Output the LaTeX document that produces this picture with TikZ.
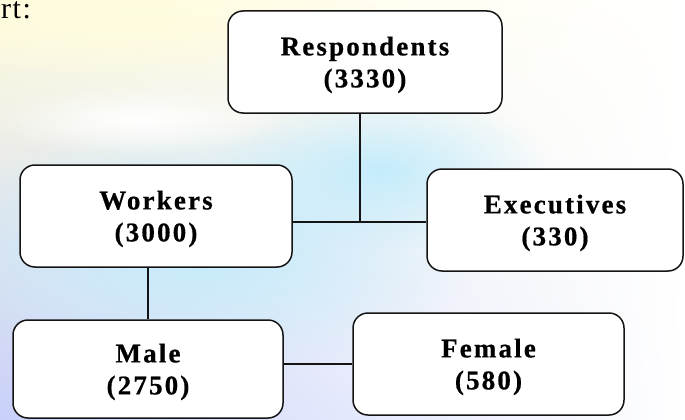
\documentclass[tikz,border=0pt]{standalone}
\usepackage{fontspec}
\setmainfont{Liberation Serif}
\usetikzlibrary{positioning,fadings,shadings}
\definecolor{paper}{RGB}{255,252,222}
\definecolor{sky}{RGB}{196,236,252}
\definecolor{lilac}{RGB}{200,208,250}
\definecolor{ink}{RGB}{20,20,20}
\tikzfading[name=blob,inner color=transparent!0,outer color=transparent!100]
\tikzset{
  unit box/.style={draw=ink,fill=white,rounded corners=15pt,line width=1.5pt,
    minimum width=#1,minimum height=102pt,align=center,inner sep=0pt,text depth=0pt,
    font=\fontsize{27}{32}\selectfont\bfseries\addfontfeature{LetterSpace=8,FakeBold=0.6}},
  unit box/.default=272pt,
  link/.style={draw=ink,line width=1.4pt},
}
\begin{document}
\begin{tikzpicture}[x=1pt,y=-1pt]
  % background
  \useasboundingbox (0,0) rectangle (685,420);
  \shade[upper left=paper,upper right=white,lower left=lilac,lower right=white] (0,0) rectangle (685,420);
  \fill[sky,path fading=blob] (200,250) ellipse (280 and 130);
  \fill[sky,path fading=blob] (380,170) ellipse (170 and 80);
  \fill[white,path fading=blob] (140,120) ellipse (150 and 35);
  \fill[paper,path fading=blob] (120,20) ellipse (260 and 60);
  \node[anchor=base west,inner sep=0pt,
    font=\fontsize{30}{34}\selectfont\addfontfeature{LetterSpace=5}] (cap) at (1,19) {rt:};
  % boxes
  \node[unit box=274pt] (resp) at (365,62) {Respondents\\(3330)};
  \node[unit box=272pt] (wrk) at (156,216) {Workers\\(3000)};
  \node[unit box=256pt] (exe) at (555,220) {Executives\\(330)};
  \node[unit box=270pt,minimum height=98pt] (male) at (148,369) {Male\\(2750)};
  \node[unit box=271pt] (fem) at (488.5,364) {Female\\(580)};
  % links
  \coordinate (j) at (360,222);
  \draw[link] (resp.south -| j) -- (j);
  \draw[link] (wrk.east |- j) -- (exe.west |- j);
  \draw[link] (male.north |- wrk.south) -- (male.north);
  \draw[link] (fem.west -| male.east) -- (fem.west);
\end{tikzpicture}
\end{document}
